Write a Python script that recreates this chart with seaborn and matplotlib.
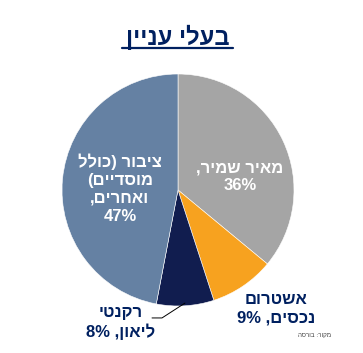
import matplotlib
matplotlib.use("Agg")
import matplotlib.pyplot as plt
import seaborn as sns
from matplotlib.lines import Line2D

# ==============================
# Data
# ==============================
owners = ["מאיר שמיר,", "אשטרום נכסים,", "רקנטי ליאון,", "ציבור (כולל מוסדיים) ואחרים,"]
shares = [36, 9, 8, 47]
colors = ["#a5a5a5", "#f7a21f", "#111d4f", "#6581a3"]

# label lines as they are broken in the chart (logical order)
label_lines = [
    ["מאיר שמיר,", "36%"],
    ["אשטרום", "נכסים, 9%"],
    ["רקנטי", "ליאון, 8%"],
    ["ציבור (כולל", "מוסדיים)", "ואחרים,", "47%"],
]
title_text = "בעלי עניין"
source_text = "מקור: בורסה"

NAVY = "#002060"


def vis(line):
    # matplotlib has no bidi support: put Hebrew into visual (LTR) order
    out = []
    for tok in reversed(line.split(" ")):
        if any("\u0590" <= c <= "\u05ff" for c in tok):
            tok = tok[::-1].translate(str.maketrans("()", ")("))
        out.append(tok)
    return " ".join(out)


sns.set_theme(style="white")
plt.rcParams["font.family"] = ["Liberation Sans", "DejaVu Sans"]

fig = plt.figure(figsize=(3.63, 3.53), dpi=100)
W, H = 363, 353
cx, cy, r = 178, 190, 116
ax = fig.add_axes([(cx - r) / W, (H - cy - r) / H, 2 * r / W, 2 * r / H])

wedges, _ = ax.pie(shares, colors=colors, startangle=90, counterclock=False,
                   radius=1, wedgeprops=dict(linewidth=0.4, edgecolor="white"))
ax.set_xlim(-1, 1)
ax.set_ylim(-1, 1)
ax.set_aspect("equal")
ax.axis("off")

# label positions (pie radius units) and colours
label_pos = [(0.534, 0.116), (0.845, -1.022), (-0.491, -1.142), (-0.50, 0.015)]
label_col = ["white", NAVY, NAVY, "white"]
for lines, (x, y), c in zip(label_lines, label_pos, label_col):
    ax.text(x, y, "\n".join(vis(l) for l in lines), ha="center", va="center",
            fontsize=12, fontweight="bold", color=c, linespacing=1.25,
            clip_on=False)

# leader line for the small navy slice
ax.plot([0.06, -0.138, -0.224], [-0.975, -1.103, -1.103], color="black",
        lw=0.7, clip_on=False)

# title with underline
fig.text(178 / W, 1 - 37 / H, vis(title_text), ha="center", va="center",
         fontsize=17, fontweight="bold", color=NAVY)
fig.add_artist(Line2D([122 / W, 233 / W], [1 - 47.5 / H, 1 - 47.5 / H],
                      color=NAVY, lw=1.6))

# source note
fig.text(315 / W, 1 - 336 / H, vis(source_text), ha="center", va="center",
         fontsize=4.5, color="#404040")

fig.savefig("out.png", dpi=100)
